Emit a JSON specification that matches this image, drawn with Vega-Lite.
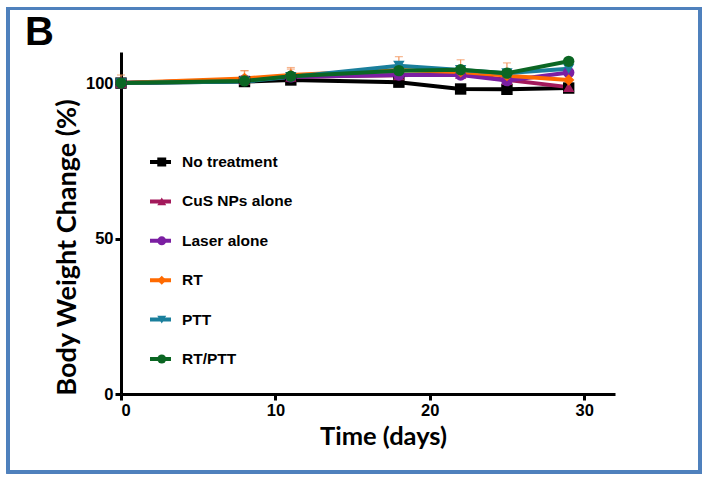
{
  "$schema": "https://vega.github.io/schema/vega-lite/v6.json",
  "autosize": "none",
  "width": 494,
  "height": 342,
  "padding": {"left": 121, "top": 52, "right": 95, "bottom": 87},
  "background": "white",
  "title": {"text": "B", "anchor": "start", "frame": "group", "dx": -96, "dy": 51, "offset": 5, "fontSize": 40, "font": "Liberation Sans", "fontWeight": "bold", "color": "#000000"},
  "config": {
    "view": {"stroke": null},
    "axis": {"domainColor": "#000", "domainWidth": 3, "tickColor": "#000", "tickWidth": 3, "tickSize": 6, "grid": false, "labelFont": "Liberation Sans", "labelFontWeight": "bold", "labelFontSize": 16.5, "labelColor": "#000", "titleFont": "Lato", "titleFontWeight": "bold", "titleFontSize": 25.5, "titleColor": "#000"}
  },
  "data": {"values": [
    {"day": 0, "group": "No treatment", "w": 100.0},
    {"day": 8, "group": "No treatment", "w": 100.5},
    {"day": 11, "group": "No treatment", "w": 101.0},
    {"day": 18, "group": "No treatment", "w": 100.3},
    {"day": 22, "group": "No treatment", "w": 98.1},
    {"day": 25, "group": "No treatment", "w": 98.0},
    {"day": 29, "group": "No treatment", "w": 98.4},
    {"day": 0, "group": "CuS NPs alone", "w": 100.0, "hi": 102.6},
    {"day": 8, "group": "CuS NPs alone", "w": 101.0, "hi": 104.0},
    {"day": 11, "group": "CuS NPs alone", "w": 102.0, "hi": 104.5},
    {"day": 18, "group": "CuS NPs alone", "w": 102.5},
    {"day": 22, "group": "CuS NPs alone", "w": 103.0},
    {"day": 25, "group": "CuS NPs alone", "w": 101.0},
    {"day": 29, "group": "CuS NPs alone", "w": 98.7},
    {"day": 0, "group": "Laser alone", "w": 100.0},
    {"day": 8, "group": "Laser alone", "w": 101.0},
    {"day": 11, "group": "Laser alone", "w": 102.0},
    {"day": 18, "group": "Laser alone", "w": 102.6},
    {"day": 22, "group": "Laser alone", "w": 102.6},
    {"day": 25, "group": "Laser alone", "w": 100.8},
    {"day": 29, "group": "Laser alone", "w": 103.4},
    {"day": 0, "group": "RT", "w": 100.0},
    {"day": 8, "group": "RT", "w": 101.5, "hi": 104.0},
    {"day": 11, "group": "RT", "w": 102.6, "hi": 105.0},
    {"day": 18, "group": "RT", "w": 104.2, "hi": 108.5},
    {"day": 22, "group": "RT", "w": 103.6, "hi": 107.5},
    {"day": 25, "group": "RT", "w": 102.4, "hi": 106.5},
    {"day": 29, "group": "RT", "w": 101.0},
    {"day": 0, "group": "PTT", "w": 100.0},
    {"day": 8, "group": "PTT", "w": 100.5},
    {"day": 11, "group": "PTT", "w": 102.0},
    {"day": 18, "group": "PTT", "w": 105.6},
    {"day": 22, "group": "PTT", "w": 104.2},
    {"day": 25, "group": "PTT", "w": 103.2},
    {"day": 29, "group": "PTT", "w": 104.6},
    {"day": 0, "group": "RT/PTT", "w": 100.0},
    {"day": 8, "group": "RT/PTT", "w": 100.7},
    {"day": 11, "group": "RT/PTT", "w": 102.2},
    {"day": 18, "group": "RT/PTT", "w": 104.0},
    {"day": 22, "group": "RT/PTT", "w": 104.3},
    {"day": 25, "group": "RT/PTT", "w": 103.2},
    {"day": 29, "group": "RT/PTT", "w": 107.0}
  ]},
  "layer": [
    {
      "mark": {"type": "rect", "fillOpacity": 0, "stroke": "#4f81bd", "strokeWidth": 3, "clip": false},
      "encoding": {
        "x": {"datum": -7.3, "type": "quantitative"},
        "x2": {"datum": 37.5},
        "y": {"datum": 124.0, "type": "quantitative"},
        "y2": {"datum": -25.0}
      }
    },
    {
      "transform": [{"filter": "isValid(datum.hi)"}],
      "mark": {"type": "rule", "strokeWidth": 1.2, "color": "#f2955e"},
      "encoding": {
        "x": {"field": "day", "type": "quantitative"},
        "y": {"field": "w", "type": "quantitative"},
        "y2": {"field": "hi"}
      }
    },
    {
      "transform": [{"filter": "isValid(datum.hi)"}],
      "mark": {"type": "tick", "orient": "horizontal", "size": 8, "thickness": 1.2, "color": "#f2955e"},
      "encoding": {
        "x": {"field": "day", "type": "quantitative"},
        "y": {"field": "hi", "type": "quantitative"}
      }
    },
    {
      "mark": {"type": "line", "strokeWidth": 4},
      "encoding": {
        "x": {"field": "day", "type": "quantitative", "scale": {"domain": [0, 32], "nice": false}, "axis": {"values": [0, 10, 20, 30], "title": "Time (days)", "titlePadding": 6, "titleX": 262, "labelPadding": 2}},
        "y": {"field": "w", "type": "quantitative", "scale": {"domain": [0, 110], "nice": false}, "axis": {"values": [0, 50, 100], "title": "Body Weight Change (%)", "titleFontSize": 27, "titleY": 195, "titlePadding": 4, "labelPadding": 2}},
        "stroke": {"field": "group", "type": "nominal", "sort": null, "scale": {"range": ["#000000", "#a3195b", "#7b1fa2", "#ff6a00", "#1a7f9c", "#0b6623"]}, "legend": {"orient": "none", "legendX": 27, "legendY": 102, "title": null, "symbolType": "stroke", "symbolStrokeWidth": 4, "symbolSize": 441, "clipHeight": 16, "rowPadding": 22.4, "padding": 0, "labelOffset": 9, "labelFont": "Liberation Sans", "labelFontWeight": "bold", "labelFontSize": 15.5, "labelColor": "#000"}}
      }
    },
    {
      "mark": {"type": "point", "filled": true, "size": 130, "opacity": 1},
      "encoding": {
        "x": {"field": "day", "type": "quantitative"},
        "y": {"field": "w", "type": "quantitative"},
        "fill": {"field": "group", "type": "nominal", "scale": {"domain": ["No treatment", "CuS NPs alone", "Laser alone", "RT", "PTT", "RT/PTT"], "range": ["#000000", "#a3195b", "#7b1fa2", "#ff6a00", "#1a7f9c", "#0b6623"]}, "legend": {"orient": "none", "legendX": 33, "legendY": 102, "title": null, "symbolSize": 80, "clipHeight": 16, "rowPadding": 22.4, "padding": 0, "labelExpr": "''", "labelFontSize": 15.5, "labelFont": "Liberation Sans", "labelFontWeight": "bold"}},
        "shape": {"field": "group", "type": "nominal", "scale": {"domain": ["No treatment", "CuS NPs alone", "Laser alone", "RT", "PTT", "RT/PTT"], "range": ["square", "triangle-up", "circle", "diamond", "triangle-down", "circle"]}}
      }
    }
  ]
}
